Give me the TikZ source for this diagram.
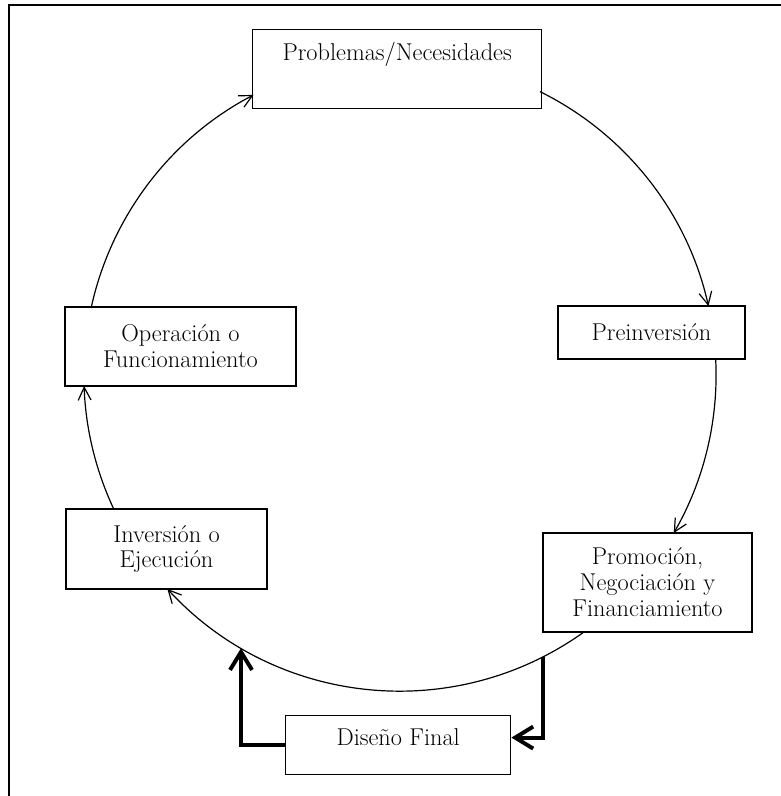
\documentclass[tikz,border=0pt]{standalone}
\usetikzlibrary{arrows.meta,calc}
\begin{document}
\begin{tikzpicture}[x=0.025cm,y=0.025cm,
  box/.style={draw,line width=1pt,fill=white,align=center,inner sep=0pt,
    font=\fontsize{17.3}{18.4}\selectfont},
  cycleline/.style={line width=0.85pt,-{Straight Barb[length=0.32cm,width=0.32cm]}},
  feedline/.style={line width=2.8pt,-{Straight Barb[length=0.45cm,width=0.55cm]}},
  frameline/.style={line width=1.5pt}]
\useasboundingbox (0,0) rectangle (781,796);

% page frame (top and left edges)
\draw[frameline] (781,791) -- (9,791) -- (9,0);

% centre of the cycle
\coordinate (c) at (400,421);

% stages
\node[box,anchor=north west,minimum width=289*0.025cm,text height=0.775cm,text depth=1.2cm]
  (prob) at (252,767) {Problemas/Necesidades};
\node[box,minimum width=187*0.025cm,minimum height=53*0.025cm] (pre) at (651.5,463.5) {Preinversión};
\node[box,minimum width=209*0.025cm,minimum height=99*0.025cm] (prom) at (647.5,213.5)
  {Promoción,\\Negociación y\\Financiamiento};
\node[box,minimum width=231*0.025cm,minimum height=79*0.025cm] (oper) at (180.5,449.5)
  {Operación o\\Funcionamiento};
\node[box,minimum width=201*0.025cm,minimum height=80*0.025cm] (inv) at (166.5,247)
  {Inversión o\\Ejecución};
\node[box,anchor=north west,minimum width=225*0.025cm,text height=0.75cm,text depth=0.725cm]
  (dis) at (285,81) {Diseño Final};

% points where the cycle leaves and enters each stage
\path (c) ++(167.5:7.9cm) coordinate (operTop);
\path (c) ++(63.7:7.9cm)  coordinate (probRight);
\path (c) ++(2.9:7.9cm)   coordinate (preBottom);
\path (c) ++(-54.4:7.9cm) coordinate (promBottom);
\path (c) ++(204.9:7.9cm) coordinate (invTop);
\path (c) ++(-63.1:7.9cm) coordinate (loopOut);
\path (c) ++(-120.2:7.9cm) coordinate (loopIn);

% the cycle
\draw[cycleline] (operTop) arc[start angle=167.5, end angle=117.6, radius=7.9cm];
\draw[cycleline] (probRight) arc[start angle=63.7, end angle=12.6, radius=7.9cm];
\draw[cycleline] (preBottom) arc[start angle=2.9, end angle=-30, radius=7.9cm];
\draw[cycleline] (promBottom) arc[start angle=-54.4, end angle=-137.4, radius=7.9cm];
\draw[cycleline] (invTop) arc[start angle=204.9, end angle=182, radius=7.9cm];

% final design loop
\draw[feedline] (loopOut) |- ([yshift=0.19cm]dis.east);
\draw[feedline] (dis.west) -| (loopIn);
\end{tikzpicture}
\end{document}
